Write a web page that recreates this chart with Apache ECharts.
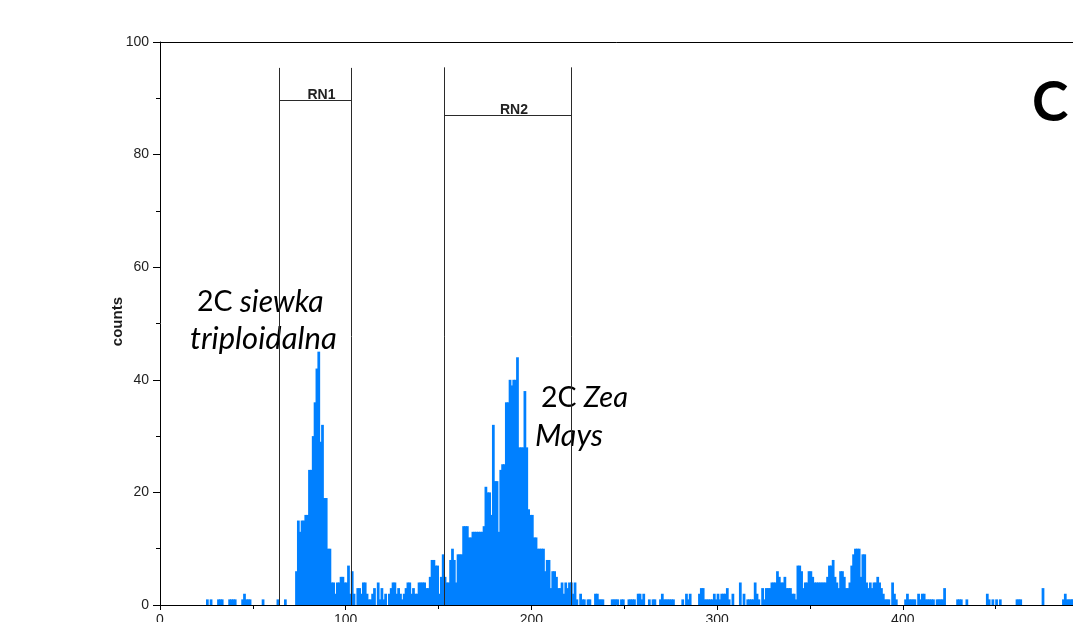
<!DOCTYPE html>
<html>
<head>
<meta charset="utf-8">
<script src="https://cdn.jsdelivr.net/npm/echarts@6/dist/echarts.min.js"></script>
<style>
html,body{margin:0;padding:0;background:#fff;}
#chart{width:1073px;height:622px;}
</style>
</head>
<body>
<div id="chart"></div>
<script>
// counts per channel, index = channel number (0..491)
const channelCounts = [
  0,0,0,0,0,0,0,0,0,0,
  0,0,0,0,0,0,0,0,0,0,
  0,0,0,0,0,1,0,1,0,0,
  0,1,1,1,0,0,0,1,1,1,
  1,0,0,0,1,2,1,1,1,0,
  0,0,0,0,0,1,0,0,0,0,
  0,0,0,1,0,0,0,1,0,0,
  0,0,0,6,15,13,15,15,16,16,
  24,24,30,36,42,45,29,32,19,19,
  10,10,4,4,2,4,4,5,5,4,
  4,7,2,6,2,0,3,3,2,4,
  4,2,1,1,2,3,0,4,1,3,
  1,2,0,2,3,4,4,2,3,2,
  1,2,3,4,4,2,3,2,2,4,
  4,4,4,3,3,5,8,8,7,7,
  2,5,9,5,4,4,8,10,8,4,
  9,9,9,14,14,14,12,12,13,13,
  13,13,13,13,14,21,20,20,16,32,
  22,22,13,24,25,25,36,36,40,39,
  40,40,44,28,28,28,38,28,17,16,
  16,12,12,10,10,10,10,6,8,8,
  3,6,6,5,3,3,4,2,4,3,
  4,4,2,4,1,0,2,1,1,0,
  1,1,0,0,2,2,1,1,1,0,
  0,0,0,1,1,1,1,0,1,1,
  0,0,1,1,1,1,0,2,2,1,
  2,0,0,1,0,1,1,0,0,1,
  2,1,1,1,1,1,1,0,0,0,
  0,1,0,2,1,2,0,0,0,0,
  2,3,3,1,1,1,1,1,2,1,
  2,1,2,2,2,3,1,0,2,0,
  0,0,4,0,2,0,1,1,1,1,
  4,2,1,0,3,1,3,3,3,4,
  4,4,6,5,4,4,5,3,3,3,
  2,2,1,7,7,6,3,4,4,6,
  6,5,4,4,4,4,4,4,4,5,
  7,7,8,5,4,3,6,6,5,3,
  3,4,7,9,10,10,10,5,9,9,
  4,3,4,3,4,4,5,4,3,2,
  1,1,1,0,4,2,1,0,0,0,
  0,1,2,1,1,1,1,0,2,1,
  2,2,1,1,1,1,1,0,1,1,
  1,1,3,0,0,0,0,0,0,1,
  1,1,0,0,1,0,0,0,0,0,
  0,0,0,0,0,2,1,0,1,0,
  1,0,1,0,0,0,0,0,0,0,
  0,1,1,1,0,0,0,0,0,0,
  0,0,0,0,0,3,0,0,0,0,
  0,0,0,0,0,0,1,2,1,1,
  1,1
];

// gate regions: [left channel, right channel, bar level, top level]
const gateNames = ['RN1', 'RN2'];
const gateRanges = [
  [64.6, 103.3, 89.6, 95.4],
  [153.4, 221.7, 87.0, 95.5]
];

const xTickValues = [0, 100, 200, 300, 400, 500];
const yTickValues = [0, 20, 40, 60, 80, 100];

const histData = channelCounts.map((v, i) => [i, v]);

const chart = echarts.init(document.getElementById('chart'), null, {renderer: 'canvas'});

const axisFont = '"Liberation Sans", Arial, sans-serif';

function crisp(v) { return Math.round(v - 0.5) + 0.5; }

const option = {
  animation: false,
  backgroundColor: '#ffffff',
  grid: {left: 160, top: 42, width: 928.5, height: 563, containLabel: false, outerBoundsMode: 'none'},
  xAxis: [
    {
      type: 'value',
      min: xTickValues[0],
      max: xTickValues[xTickValues.length - 1],
      interval: 100,
      axisLine: {show: true, onZero: false, lineStyle: {color: '#000', width: 1}},
      axisTick: {show: true, length: 5, lineStyle: {color: '#000'}},
      minorTick: {show: true, splitNumber: 2, length: 4, lineStyle: {color: '#000'}},
      axisLabel: {show: true, margin: 8, fontFamily: axisFont, fontSize: 14, color: '#1e1e1e'},
      splitLine: {show: false}
    },
    {
      type: 'value',
      position: 'top',
      min: xTickValues[0],
      max: xTickValues[xTickValues.length - 1],
      axisLine: {show: true, onZero: false, lineStyle: {color: '#000', width: 1}},
      axisTick: {show: false},
      axisLabel: {show: false},
      splitLine: {show: false}
    }
  ],
  yAxis: {
    type: 'value',
    min: yTickValues[0],
    max: yTickValues[yTickValues.length - 1],
    interval: 20,
    axisLine: {show: true, onZero: false, lineStyle: {color: '#000', width: 1}},
    axisTick: {show: true, length: 7, lineStyle: {color: '#000'}},
    minorTick: {show: true, splitNumber: 2, length: 4, lineStyle: {color: '#000'}},
    axisLabel: {show: true, margin: 11, fontFamily: axisFont, fontSize: 14, color: '#1e1e1e'},
    splitLine: {show: false}
  },
  series: [
    {
      type: 'custom',
      name: 'counts',
      data: histData,
      silent: true,
      z: 2,
      renderItem: function (params, api) {
        const c = api.value(0), v = api.value(1);
        if (!v) return null;
        const pTop = api.coord([c, v]);
        const pEnd = api.coord([c + 1, 0]);
        return {
          type: 'rect',
          shape: {x: pTop[0] - 0.45, y: pTop[1], width: pEnd[0] - pTop[0] + 0.9, height: pEnd[1] - pTop[1]},
          style: {fill: '#0080ff'}
        };
      }
    },
    {
      type: 'custom',
      name: 'gates',
      data: gateRanges,
      silent: true,
      z: 3,
      renderItem: function (params, api) {
        const x0 = api.value(0), x1 = api.value(1), yb = api.value(2), yt = api.value(3);
        const pL0 = api.coord([x0, 0]), pLt = api.coord([x0, yt]);
        const pR0 = api.coord([x1, 0]), pRt = api.coord([x1, yt]);
        const pB0 = api.coord([x0, yb]);
        const stroke = {stroke: '#2a2a2a', lineWidth: 1};
        const lx = crisp(pL0[0]), rx = crisp(pR0[0]), by = crisp(pB0[1]);
        return {
          type: 'group',
          children: [
            {type: 'line', shape: {x1: lx, y1: pL0[1], x2: lx, y2: pLt[1]}, style: stroke},
            {type: 'line', shape: {x1: rx, y1: pR0[1], x2: rx, y2: pRt[1]}, style: stroke},
            {type: 'line', shape: {x1: lx, y1: by, x2: rx, y2: by}, style: stroke},
            {
              type: 'text',
              x: (lx + rx) / 2 + 6,
              y: by + 2,
              style: {
                text: gateNames[params.dataIndex],
                align: 'center',
                verticalAlign: 'bottom',
                font: 'bold 14px "Liberation Sans", Arial, sans-serif',
                fill: '#222'
              }
            }
          ]
        };
      }
    }
  ],
  graphic: [
    {
      type: 'text',
      left: 110, top: 297,
      rotation: Math.PI / 2,
      originX: 0, originY: 0,
      style: {
        text: 'counts',
        font: 'bold 15px "Liberation Sans", Arial, sans-serif',
        fill: '#1a1a1a'
      }
    },
    {
      type: 'text',
      x: 197, y: 302,
      style: {
        text: '{n|2C }{i|siewka}',
        verticalAlign: 'middle',
        rich: {
          n: {fontFamily: 'Lato', fontSize: 28.5, fontStyle: 'normal', fill: '#000'},
          i: {fontFamily: 'Lato', fontSize: 30, fontStyle: 'italic', fill: '#000'}
        }
      }
    },
    {
      type: 'text',
      x: 190, y: 339,
      style: {
        text: 'triploidalna',
        verticalAlign: 'middle',
        font: 'italic 31px Lato',
        fill: '#000'
      }
    },
    {
      type: 'text',
      x: 541, y: 398,
      style: {
        text: '{n|2C }{i|Zea}',
        verticalAlign: 'middle',
        rich: {
          n: {fontFamily: 'Lato', fontSize: 28.5, fontStyle: 'normal', fill: '#000'},
          i: {fontFamily: 'Lato', fontSize: 29, fontStyle: 'italic', fill: '#000'}
        }
      }
    },
    {
      type: 'text',
      x: 535, y: 436,
      style: {
        text: 'Mays',
        verticalAlign: 'middle',
        font: 'italic 30.5px Lato',
        fill: '#000'
      }
    },
    {
      type: 'text',
      x: 1032, y: 103,
      style: {
        text: 'C',
        verticalAlign: 'middle',
        font: 'bold 55px Lato',
        fill: '#000'
      }
    }
  ]
};

chart.setOption(option);
</script>
</body>
</html>
